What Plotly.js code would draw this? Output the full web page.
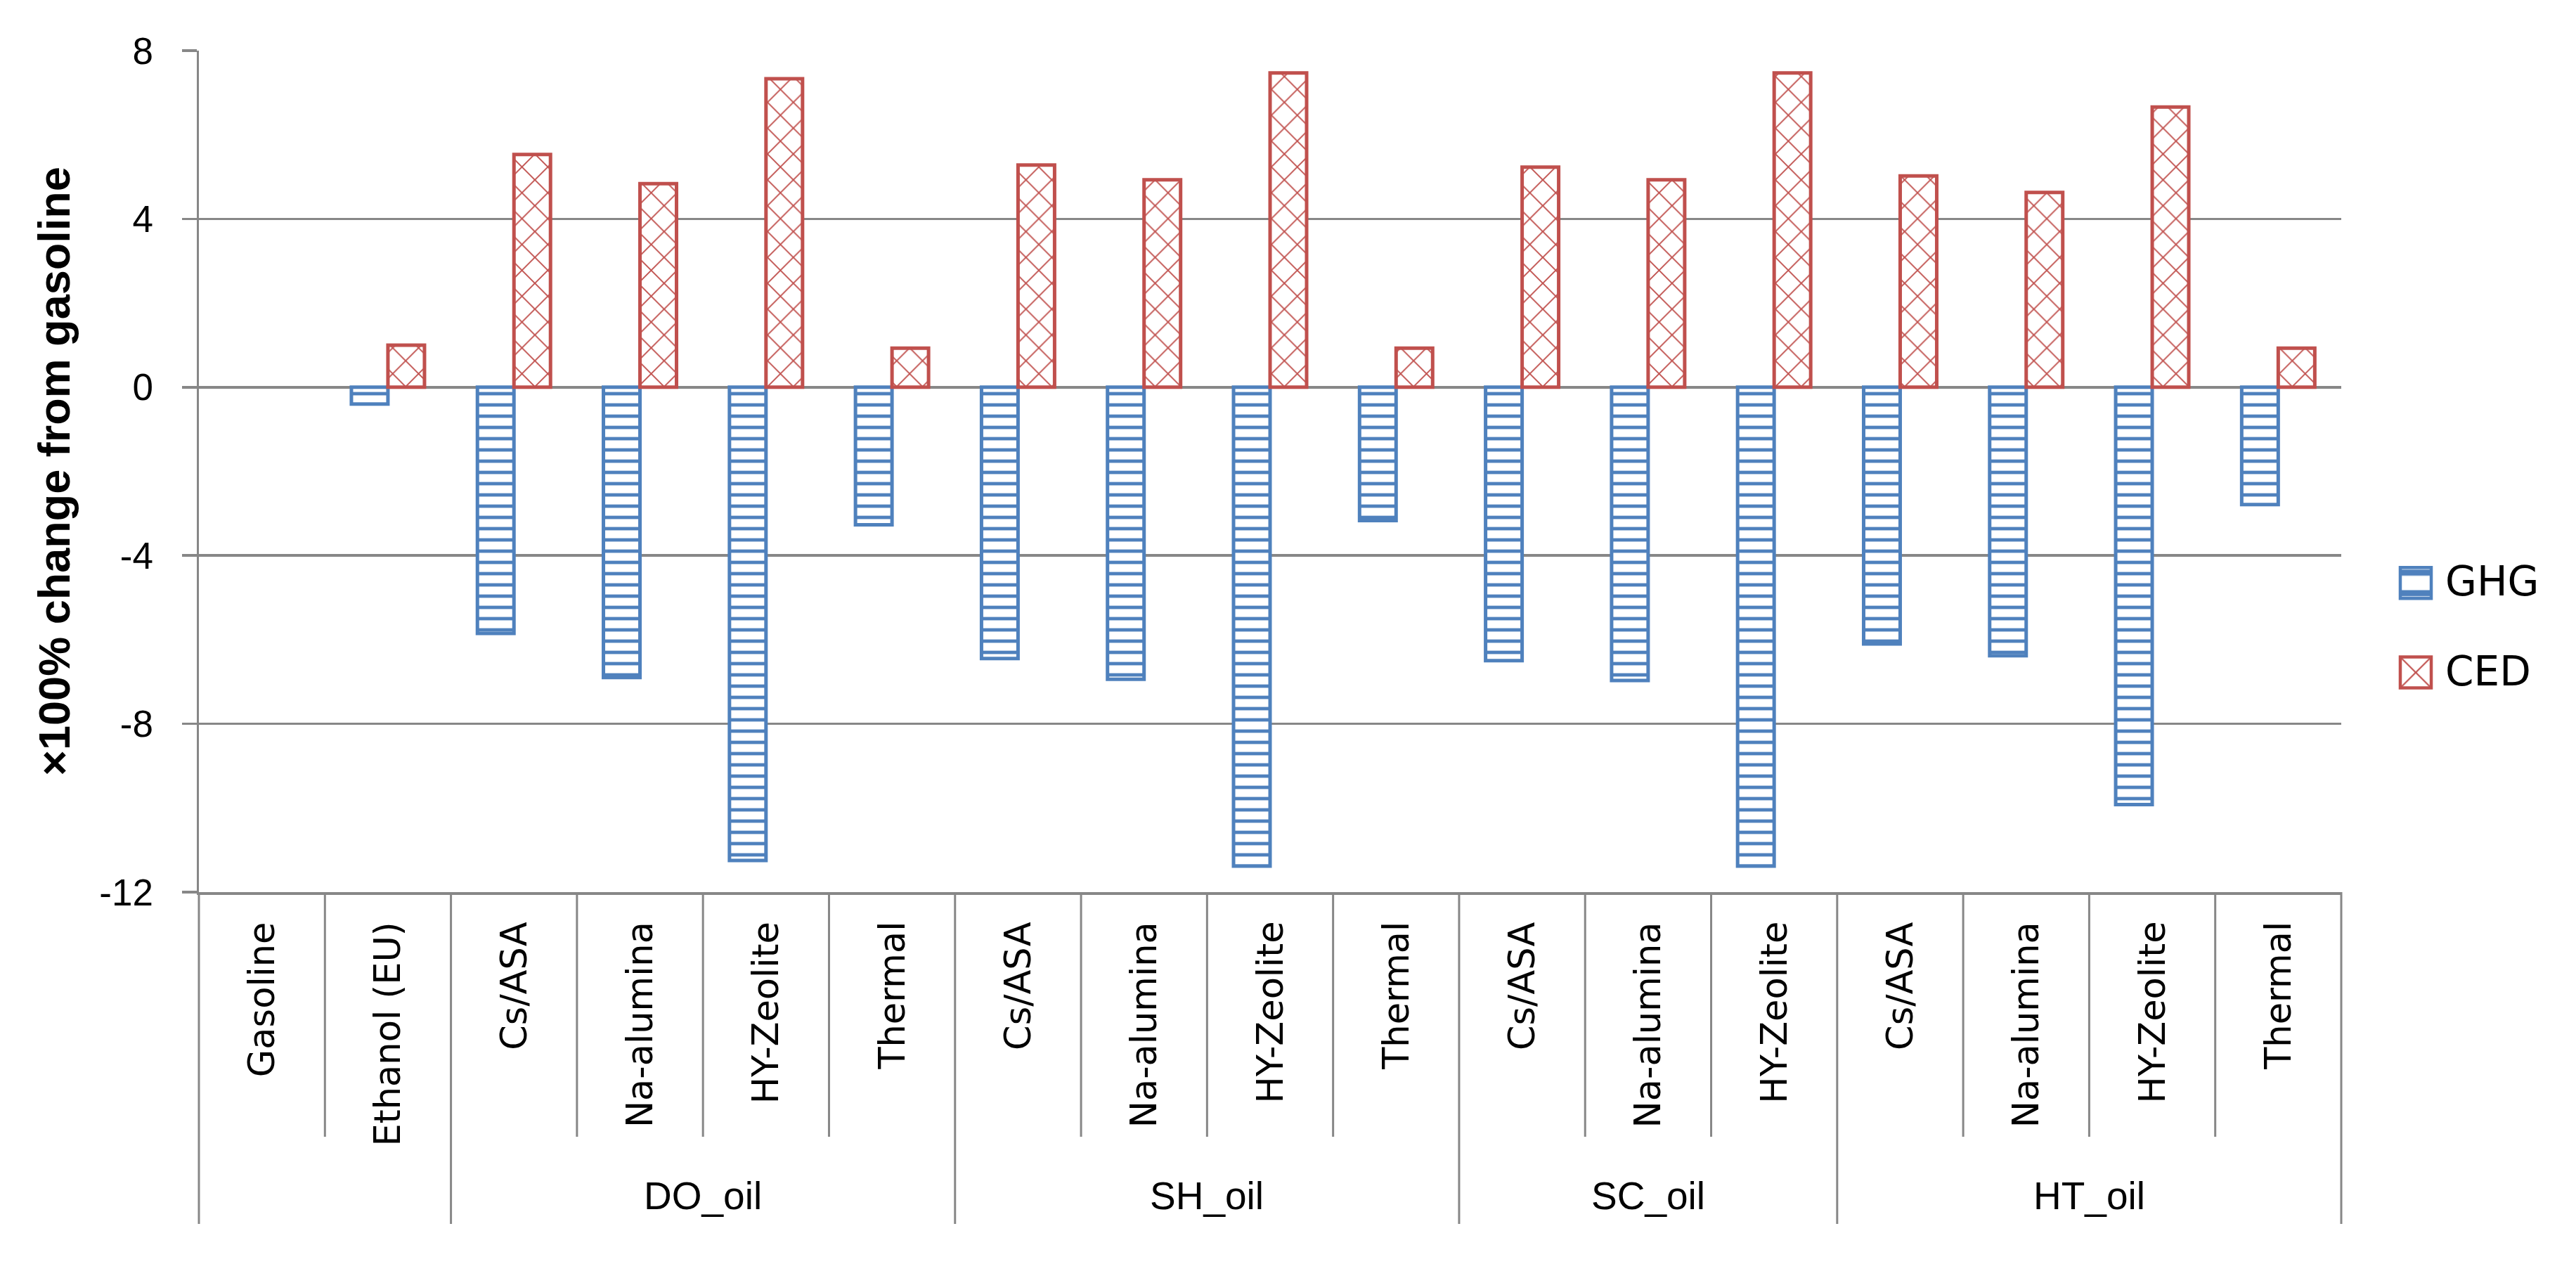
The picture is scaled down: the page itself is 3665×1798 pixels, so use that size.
<!DOCTYPE html>
<html><head><meta charset="utf-8">
<script src="https://cdn.plot.ly/plotly-3.0.1.min.js"></script>
<style>html,body{margin:0;padding:0;background:#fff}#chart{width:3665px;height:1798px}</style>
</head><body><div id="chart"></div>
<script>
// ---- data ----
const categories = ['Gasoline','Ethanol (EU)','Cs/ASA','Na-alumina','HY-Zeolite','Thermal','Cs/ASA','Na-alumina','HY-Zeolite','Thermal','Cs/ASA','Na-alumina','HY-Zeolite','Cs/ASA','Na-alumina','HY-Zeolite','Thermal'];
const groups = ['','','DO_oil','DO_oil','DO_oil','DO_oil','SH_oil','SH_oil','SH_oil','SH_oil','SC_oil','SC_oil','SC_oil','HT_oil','HT_oil','HT_oil','HT_oil'];
const ghg = [0,-0.4,-5.85,-6.9,-11.25,-3.27,-6.45,-6.94,-11.38,-3.17,-6.5,-6.97,-11.38,-6.1,-6.38,-9.92,-2.79];
const ced = [0,1.0,5.53,4.84,7.33,0.93,5.28,4.93,7.47,0.93,5.23,4.93,7.47,5.02,4.63,6.66,0.93];
const seriesNames = ['GHG','CED'];
const yTickVals = [-12,-8,-4,0,4,8];
const yTickText = ['-12','-8','-4','0','4','8'];
const yTitle = '×100% change from gasoline';

// ---- styling ----
const W = 3665, H = 1798;
const M = {l:283, r:334, t:72, b:529};
const plotH = H - M.t - M.b;
const n = categories.length;
const idx = categories.map((_, i) => i);
const grey = '#878787';
const blue = '#4F81BD', red = '#C0504D';
const colors = [blue, red];
const numFont = 'Liberation Sans, Arial, sans-serif';
const catFont = 'DejaVu Sans, Verdana, sans-serif';
const LW = 5;
const lw = v => (v === 0 ? 0 : LW);

const traces = [
  {type:'bar', name:seriesNames[0], x:idx, y:ghg, legendgroup:'a',
   marker:{color:blue, line:{color:blue, width:ghg.map(lw)},
     pattern:{shape:'-', fillmode:'replace', fgcolor:blue, bgcolor:'#ffffff', size:16, solidity:0.3}}},
  {type:'bar', name:seriesNames[1], x:idx, y:ced, legendgroup:'b',
   marker:{color:red, line:{color:red, width:ced.map(lw)},
     pattern:{shape:'x', fillmode:'replace', fgcolor:red, bgcolor:'#ffffff', size:26, solidity:0.14}}}
];

const annotations = [];
categories.forEach((c, i) => {
  annotations.push({x:i, xref:'x', y:0, yref:'paper', yshift:-40, xanchor:'center', yanchor:'top',
    text:c, textangle:-90, showarrow:false, font:{family:catFont, size:51, color:'#000'}});
});
// group labels
let s = 0;
for (let i = 1; i <= n; i++) {
  if (i === n || groups[i] !== groups[s]) {
    if (groups[s] !== '') {
      annotations.push({x:(s + i - 1) / 2, xref:'x', y:0, yref:'paper', yshift:-432, xanchor:'center', yanchor:'middle',
        text:groups[s], showarrow:false, font:{family:numFont, size:55, color:'#000'}});
    }
    s = i;
  }
}

const shapes = [];
const shortLen = 348 / plotH, longLen = 472 / plotH;
for (let b = 0; b <= n; b++) {
  const isLong = (b === 0 || b === n || groups[b] !== groups[b - 1]);
  shapes.push({type:'line', xref:'paper', yref:'paper', x0:b / n, x1:b / n, y0:0, y1:-(isLong ? longLen : shortLen),
    line:{color:grey, width:3}});
}

const layout = {
  width:W, height:H, margin:M, paper_bgcolor:'#fff', plot_bgcolor:'#fff',
  barmode:'group', bargap:0.42, bargroupgap:0,
  showlegend:true,
  legend:{x:1.021, xanchor:'left', y:0.318, yanchor:'middle', traceorder:'grouped', tracegroupgap:49,
    itemwidth:74, font:{family:catFont, size:58, color:'#000'}, bgcolor:'rgba(0,0,0,0)'},
  xaxis:{range:[-0.5, n - 0.5], showticklabels:false, ticks:'', showgrid:false, zeroline:false,
    showline:true, linecolor:grey, linewidth:3.5, fixedrange:true},
  xaxis2:{overlaying:'x', anchor:'free', position:0.6, range:[-0.5, n - 0.5], showticklabels:false,
    tickmode:'array', tickvals:categories.map((_, i) => i + 0.5), ticks:'outside', ticklen:20, tickwidth:3,
    tickcolor:grey, showline:true, linecolor:grey, linewidth:3.5, showgrid:false, zeroline:false},
  yaxis:{range:[-12, 8], tickmode:'array', tickvals:yTickVals, ticktext:yTickText,
    ticks:'outside', ticklen:21, tickwidth:3.5, tickcolor:grey, ticklabelstandoff:30,
    showgrid:true, gridcolor:grey, gridwidth:3.5, zeroline:false,
    showline:true, linecolor:grey, linewidth:3.5,
    tickfont:{family:numFont, size:53, color:'#000'},
    title:{text:'<b>' + yTitle + '</b>', standoff:22, font:{family:numFont, size:63, color:'#000'}}},
  annotations:annotations, shapes:shapes
};

Plotly.newPlot('chart', traces, layout, {staticPlot:true}).then(gd => {
  gd.querySelectorAll('.legend [clip-path]').forEach(e => e.removeAttribute('clip-path'));
  gd.querySelectorAll('.legend .traces').forEach((tr, k) => {
    const p = tr.querySelector('.legendpoints path');
    const t = tr.querySelector('text.legendtext');
    if (!p || !t) return;
    p.removeAttribute('transform');
    const pr = p.getBoundingClientRect(), trc = t.getBoundingClientRect();
    const cx = pr.left + pr.width / 2, cy = pr.top + pr.height / 2;
    const tx = trc.left - 42 - cx, ty = (trc.top + trc.height / 2 + 2) - cy;
    const sc = 3.67;
    p.setAttribute('transform', 'translate(' + tx + ',' + ty + ') scale(' + sc + ')');
    p.style.stroke = colors[k % colors.length];
    p.style.strokeOpacity = '1';
    p.style.strokeWidth = (4.5 / sc) + 'px';
  });
});
</script></body></html>
